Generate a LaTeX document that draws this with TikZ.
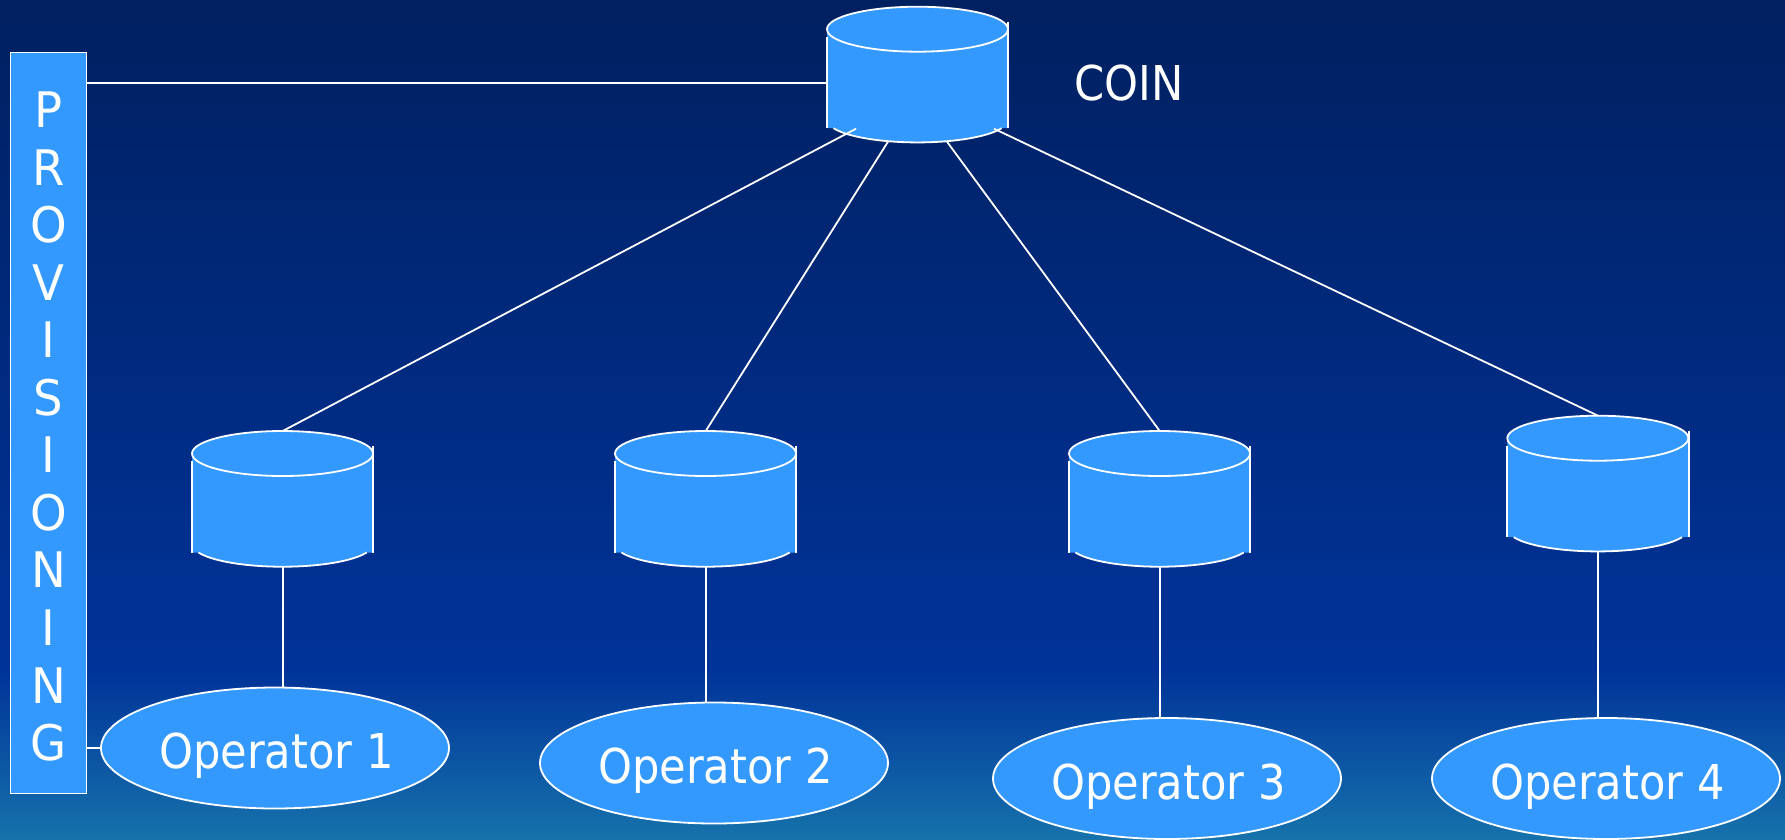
\documentclass[tikz,border=0pt]{standalone}
\usepackage{fontspec}
\setmainfont[FakeStretch=0.9]{DejaVu Sans}
\newfontfamily\provfont[FakeStretch=0.95]{DejaVu Sans}
\usetikzlibrary{shapes.geometric}
\definecolor{bgtop}{HTML}{002060}
\definecolor{bgmid}{HTML}{003399}
\definecolor{bgbot}{HTML}{1672AB}
\definecolor{boxblue}{HTML}{3399FF}
\tikzset{
  x=1pt,y=-1pt,
  link/.style={draw=white,line width=1.8pt},
  opnode/.style={ellipse,draw=white,fill=boxblue,line width=1.8pt,minimum width=348pt,minimum height=121pt,inner sep=0pt,text=white,text height=41.4pt,text depth=0pt,font=\fontsize{48}{56}\selectfont,execute at begin node={\hspace*{3pt}}},
  dbcyl/.pic={
    \fill[boxblue] (0,22.5) -- (0,121.5) -- (6.4,121.5) arc[start angle=201.6,end angle=338.4,x radius=90.5pt,y radius=22.5pt] -- (181.3,121.5) -- (181.3,22.5) -- cycle;
    \draw[link] (0,30) -- (0,121.5);
    \draw[link] (181.3,15) -- (181.3,121.5);
    \draw[link] (6.4,121.5) arc[start angle=201.6,end angle=338.4,x radius=90.5pt,y radius=22.5pt];
    \draw[link,fill=boxblue] (90.5,22.5) ellipse[x radius=90.5pt,y radius=22.5pt];
    \coordinate (-top) at (90.7,0);
    \coordinate (-bot) at (90.7,135.7);
    \coordinate (-l) at (0,76);
    \coordinate (-a) at (29,122);
    \coordinate (-b) at (61,135);
    \coordinate (-c) at (120,135);
    \coordinate (-d) at (167,122);
  }
}
\begin{document}
\begin{tikzpicture}
\useasboundingbox (0,0) rectangle (1785,839);
\fill[top color=bgtop,bottom color=bgmid] (0,0) rectangle (1785,671);
\fill[top color=bgmid,bottom color=bgbot] (0,670) rectangle (1785,839);
\node[draw=white,fill=boxblue,line width=1.8pt,minimum width=76pt,minimum height=741pt,inner sep=0pt] (prov) at (48.5,423) {};
\node[text=white,inner sep=0pt,align=center,font=\provfont\fontsize{49}{57.55}\selectfont] (provtext) at (48.5,426.5) {P\\R\\O\\V\\I\\S\\I\\O\\N\\I\\N\\G};
\pic (coin) at (827,6.7) {dbcyl};
\pic (c1) at (192,431) {dbcyl};
\pic (c2) at (615,431) {dbcyl};
\pic (c3) at (1069,431) {dbcyl};
\pic (c4) at (1507.3,415.7) {dbcyl};
\node[opnode] (op1) at (275,748) {Operator 1};
\node[opnode] (op2) at (714,763) {Operator 2};
\node[opnode] (op3) at (1167,778.5) {Operator 3};
\node[opnode] (op4) at (1606,778.5) {Operator 4};
\node[anchor=base,inner sep=0pt,text=white,font=\fontsize{48}{56}\selectfont] (coinlabel) at (1129,100) {COIN};
\draw[link] (prov.east |- coin-l) -- (coin-l);
\draw[link] (op1.west -| prov.east) -- (op1.west);
\draw[link] (coin-a) -- (c1-top);
\draw[link] (coin-b) -- (c2-top);
\draw[link] (coin-c) -- (c3-top);
\draw[link] (coin-d) -- (c4-top);
\draw[link] (c1-bot) -- (c1-bot |- op1.north);
\draw[link] (c2-bot) -- (c2-bot |- op2.north);
\draw[link] (c3-bot) -- (c3-bot |- op3.north);
\draw[link] (c4-bot) -- (c4-bot |- op4.north);
\end{tikzpicture}
\end{document}
